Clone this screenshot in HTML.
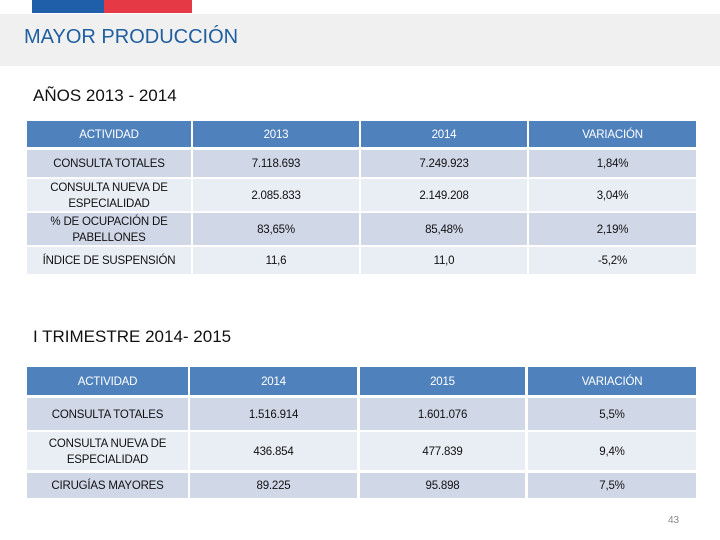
<!DOCTYPE html>
<html><head><meta charset="utf-8"><style>
body{margin:0;width:720px;height:540px;position:relative;background:#fff;font-family:"Liberation Sans",sans-serif;overflow:hidden}
.a{position:absolute}
.c{position:absolute;box-sizing:border-box;padding-top:3px;display:flex;align-items:center;justify-content:center;text-align:center;font-size:11.5px;color:#111;line-height:1.35;letter-spacing:-0.2px}
.h{background:#4f81bd;color:#fff}
.d{background:#d0d8e8}
.l{background:#e9edf4}
</style></head><body>
<div class="a" style="left:32px;top:0;width:72px;height:13px;background:#1f5ea8"></div>
<div class="a" style="left:104px;top:0;width:88px;height:13px;background:#e63946"></div>
<div class="a" style="left:0;top:14px;width:720px;height:52px;background:#f0f0f0"></div>
<div class="a" style="left:24px;top:26px;font-size:20px;color:#1f5fa0">MAYOR PRODUCCIÓN</div>
<div class="a" style="left:33px;top:86px;font-size:17px;color:#111">AÑOS 2013 - 2014</div>
<div class="a" style="left:33px;top:327px;font-size:17px;color:#111">I TRIMESTRE 2014- 2015</div>
<div class="a" style="left:668px;top:515px;font-size:10px;color:#888">43</div>
<div id="t"></div>
<script>
const cols1=[[27,164],[193,166],[361,166],[529,167]];
const rows1=[[121,26],[150,27],[179,32],[213,32],[247,27]];
const data1=[["ACTIVIDAD","2013","2014","VARIACIÓN"],["CONSULTA TOTALES","7.118.693","7.249.923","1,84%"],["CONSULTA NUEVA DE<br>ESPECIALIDAD","2.085.833","2.149.208","3,04%"],["% DE OCUPACIÓN DE<br>PABELLONES","83,65%","85,48%","2,19%"],["ÍNDICE DE SUSPENSIÓN","11,6","11,0","-5,2%"]];
const cols2=[[27,161],[190,167],[360,165],[528,168]];
const rows2=[[367,28],[398,32],[432,38],[473,25]];
const data2=[["ACTIVIDAD","2014","2015","VARIACIÓN"],["CONSULTA TOTALES","1.516.914","1.601.076","5,5%"],["CONSULTA NUEVA DE<br>ESPECIALIDAD","436.854","477.839","9,4%"],["CIRUGÍAS MAYORES","89.225","95.898","7,5%"]];
const t=document.getElementById('t');
function build(cols,rows,data,name){
 rows.forEach((r,i)=>cols.forEach((c,j)=>{
  const el=document.createElement('div');
  el.className='c '+(i==0?'h':(i%2?'d':'l'));
  el.style.cssText=`left:${c[0]}px;top:${r[0]}px;width:${c[1]}px;height:${r[1]}px`;
  el.innerHTML=data[i][j];
  
  
  t.appendChild(el);
 }));
}
build(cols1,rows1,data1,'table-2013-2014');
build(cols2,rows2,data2,'table-trimestre');
</script>
</body></html>
